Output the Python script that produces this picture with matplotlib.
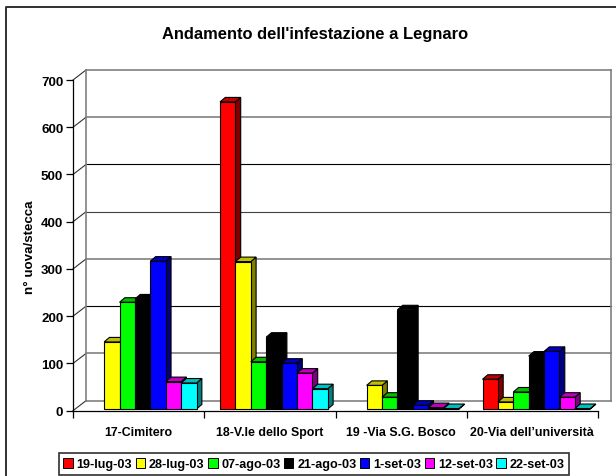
import matplotlib
matplotlib.use('Agg')
import matplotlib.pyplot as plt
from matplotlib.lines import Line2D
from matplotlib.patches import Patch
from matplotlib.colors import to_rgb

plt.rcParams['font.family'] = ['Liberation Sans', 'DejaVu Sans']
plt.rcParams['font.weight'] = 'bold'

sites = ['17-Cimitero', '18-V.le dello Sport', '19 -Via S.G. Bosco', "20-Via dell\u2019universit\u00e0"]
dates = ['19-lug-03', '28-lug-03', '07-ago-03', '21-ago-03', '1-set-03', '12-set-03', '22-set-03']
lug19 = [0, 650, 0, 63]
lug28 = [142, 312, 50, 15]
ago07 = [226, 100, 25, 36]
ago21 = [233, 152, 210, 112]
set01 = [313, 97, 8, 122]
set12 = [58, 76, 3, 25]
set22 = [55, 43, 1, 1]
series = [lug19, lug28, ago07, ago21, set01, set12, set22]
colors = ['#ff0000', '#ffff00', '#00ff00', '#000000', '#0000ff', '#ff00ff', '#00ffff']
yticks = [0, 100, 200, 300, 400, 500, 600, 700]
grid_colors = ['#808080', '#808080', '#000000', '#808080', '#404040', '#000000', '#808080', '#808080']

W, H = 616, 477
fig = plt.figure(figsize=(W / 100, H / 100), dpi=100)
ax = fig.add_axes([73 / W, 1 - 411.7 / H, 525 / W, 330.7 / H])
ax.set_xlim(0, 4)
ax.set_ylim(0, 700)
ax.patch.set_visible(False)

# fake 3d depth, in data units
px_x = 4 / 525
px_y = 700 / 330.7
wall_dx, wall_dy = 13 * px_x, 10 * px_y
bar_dx, bar_dy = 5.3 * px_x, 4.5 * px_y
base = 1.7 * px_y
start = 15.75 * px_x
width = 15.4 * px_x


def shade(color, f):
    return tuple(c * f for c in to_rgb(color))


# back wall
for v, c in zip(yticks, grid_colors):
    lw = 1.2 if c == '#808080' else 0.8
    ax.plot([wall_dx, 4 + wall_dx], [v + wall_dy, v + wall_dy], color=c, lw=lw, clip_on=False, zorder=1)
    ax.plot([0, wall_dx], [v, v + wall_dy], color='#303030', lw=0.8, clip_on=False, zorder=1)
ax.plot([wall_dx, wall_dx], [wall_dy, 700 + wall_dy], color='#808080', lw=1.2, clip_on=False, zorder=1)
ax.plot([4 + wall_dx, 4 + wall_dx], [wall_dy, 700 + wall_dy], color='#808080', lw=1.2, clip_on=False, zorder=1)

# bars go left to right so each front covers the side of the one before
z = 2
for i in range(len(sites)):
    for j, vals in enumerate(series):
        v = vals[i]
        if v == 0:
            continue
        x0 = i + start + j * width
        x1 = x0 + width
        top = base + v
        c = colors[j]
        ax.fill([x1, x1 + bar_dx, x1 + bar_dx, x1], [base, base + bar_dy, top + bar_dy, top],
                facecolor=shade(c, 0.5), edgecolor='black', lw=0.8, clip_on=False, zorder=z)
        ax.fill([x0, x1, x1 + bar_dx, x0 + bar_dx], [top, top, top + bar_dy, top + bar_dy],
                facecolor=shade(c, 0.75), edgecolor='black', lw=0.8, clip_on=False, zorder=z)
        ax.bar(x0, v, width=width, bottom=base, align='edge', color=c, edgecolor='black', lw=0.8,
               clip_on=False, zorder=z + 0.5)
        z += 1

for s in ['top', 'right']:
    ax.spines[s].set_visible(False)
for s in ['left', 'bottom']:
    ax.spines[s].set_linewidth(0.9)
    ax.spines[s].set_zorder(1.5)

ax.set_yticks(yticks)
ax.tick_params(axis='y', length=5, width=0.9, pad=2, labelsize=9.6)
ax.set_xticks(range(5))
ax.set_xticklabels([])
ax.tick_params(axis='x', which='major', length=5, width=0.9)
ax.set_xticks([0.5, 1.5, 2.5, 3.5], minor=True)
ax.set_xticklabels(sites, minor=True, fontsize=8.9)
ax.tick_params(axis='x', which='minor', length=0, pad=11)

fig.text(315 / W, 1 - 35 / H, "Andamento dell'infestazione a Legnaro", ha='center', va='center', fontsize=11.9)
fig.text(30 / W, 1 - 247 / H, 'n\u00b0 uova/stecca', ha='center', va='center', rotation=90, fontsize=9.6)

handles = [Patch(facecolor=c, edgecolor='black', lw=0.7, label=d) for c, d in zip(colors, dates)]
leg = fig.legend(handles=handles, ncol=7, loc='center', bbox_to_anchor=(314 / W, 1 - 465 / H),
                 fontsize=9.1, frameon=True, fancybox=False, edgecolor='#303030', framealpha=1,
                 handlelength=0.75, handleheight=0.8, handletextpad=0.3, columnspacing=0.27,
                 borderpad=0.35, borderaxespad=0)
leg.get_frame().set_linewidth(1.2)

# outer chart border, cut by the picture on the right and at the bottom
fig.add_artist(Line2D([6 / W, 6 / W, 1], [0, 1 - 7.5 / H, 1 - 7.5 / H], color='#303030', lw=1.4,
                      transform=fig.transFigure))

fig.savefig('out.png', dpi=100)
